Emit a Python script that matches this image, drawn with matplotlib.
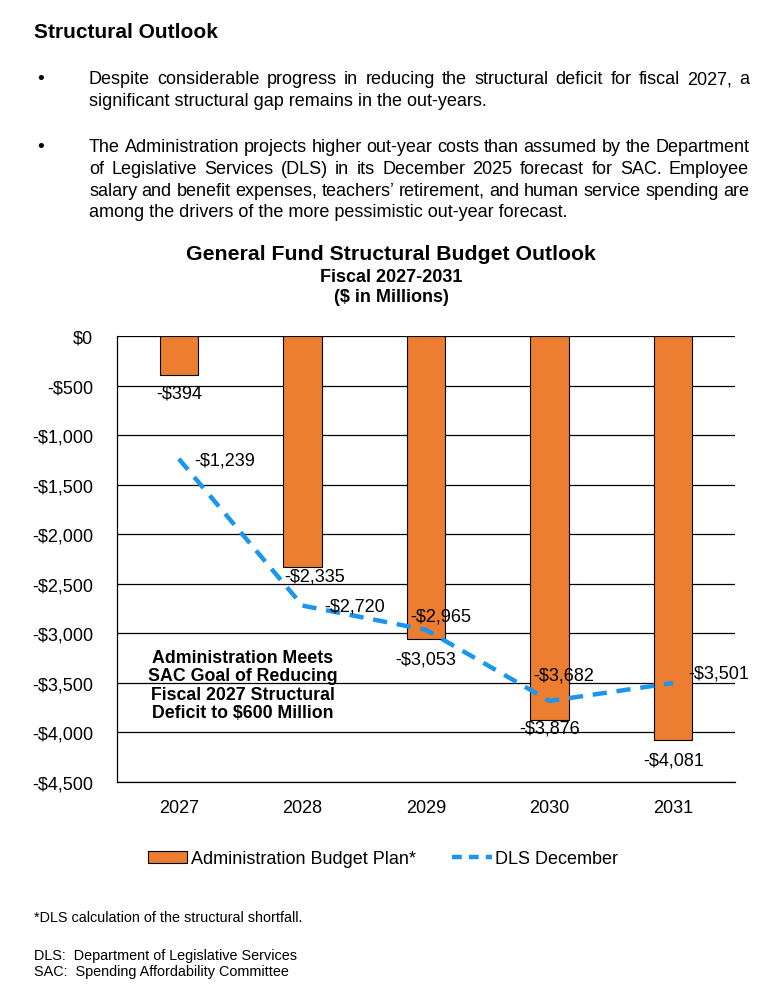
import matplotlib.pyplot as plt
from matplotlib.patches import Patch
from matplotlib.lines import Line2D

plt.rcParams['font.family'] = ['Liberation Sans', 'DejaVu Sans']

# chart data
years = ['2027', '2028', '2029', '2030', '2031']
admin_plan = [-394, -2335, -3053, -3876, -4081]
dls_december = [-1239, -2720, -2965, -3682, -3501]
y_ticks = [0, -500, -1000, -1500, -2000, -2500, -3000, -3500, -4000, -4500]

W, H = 773, 995
fig = plt.figure(figsize=(W / 100, H / 100), dpi=100)


def fy(y):
    return 1 - y / H


def fmt(v):
    return '-${:,}'.format(abs(v)) if v < 0 else '${:,}'.format(v)


# header text
fig.text(34 / W, fy(32), 'Structural Outlook', fontsize=15, fontweight='bold', va='center')

bullets = [
    ['Despite considerable progress in reducing the structural deficit for fiscal 2027, a',
     'significant structural gap remains in the out-years.'],
    ['The Administration projects higher out-year costs than assumed by the Department',
     'of Legislative Services (DLS) in its December 2025 forecast for SAC. Employee',
     "salary and benefit expenses, teachers\u2019 retirement, and human service spending are",
     'among the drivers of the more pessimistic out-year forecast.'],
]
bullet_y = [80, 148]
renderer = fig.canvas.get_renderer()
x0, x1 = 89, 749
for lines, by in zip(bullets, bullet_y):
    fig.text(37 / W, fy(by), '\u2022', fontsize=14, va='center')
    for i, line in enumerate(lines):
        y = fy(by + i * 21.5)
        if i == len(lines) - 1:
            fig.text(x0 / W, y, line, fontsize=13, va='center')
            continue
        # justify the line between x0 and x1
        words = line.split(' ')
        objs = [fig.text(0, y, w, fontsize=13, va='center') for w in words]
        widths = [o.get_window_extent(renderer).width for o in objs]
        gap = (x1 - x0 - sum(widths)) / (len(words) - 1)
        x = x0
        for o, w in zip(objs, widths):
            o.set_x(x / W)
            x += w + gap

# chart title
fig.text(391 / W, fy(255), 'General Fund Structural Budget Outlook', fontsize=15.3,
         fontweight='bold', ha='center', va='center')
fig.text(391 / W, fy(278), 'Fiscal 2027-2031', fontsize=13, fontweight='bold', ha='center', va='center')
fig.text(391 / W, fy(298), '($ in Millions)', fontsize=13, fontweight='bold', ha='center', va='center')

ax = fig.add_axes([117 / W, fy(783), (735 - 117) / W, (783 - 337) / H])
x = list(range(len(years)))
ax.bar(x, admin_plan, width=0.31, color='#ED7D31', edgecolor='black', linewidth=0.8, zorder=3)
ax.plot(x, dls_december, color='#1A96F0', linewidth=3.2, dashes=(3.2, 2.2), zorder=4)

ax.set_xlim(-0.5, len(years) - 0.5)
ax.set_ylim(-4500, 0)
ax.set_yticks(y_ticks)
ax.set_yticklabels([fmt(v) for v in y_ticks], fontsize=13)
ax.set_xticks(x)
ax.set_xticklabels(years, fontsize=13)
ax.tick_params(axis='y', length=0, pad=17)
ax.tick_params(axis='x', length=0, pad=12)
ax.grid(axis='y', color='black', linewidth=0.9, zorder=0)
ax.set_axisbelow(True)
for s in ['top', 'right']:
    ax.spines[s].set_visible(False)
ax.spines['left'].set_linewidth(0.9)
ax.spines['bottom'].set_linewidth(0.9)

# bar value labels (offsets in points)
bar_offsets = [(0, -13), (9, -6), (0, -15), (0, -6), (0, -14)]
for xi, v, off in zip(x, admin_plan, bar_offsets):
    ax.annotate(fmt(v), (xi, v), xytext=off, textcoords='offset points', ha='center',
                va='center', fontsize=13, zorder=5)

# line value labels
line_offsets = [(11, -1), (16, 0), (-11, 10), (-12, 19), (11, 7)]
for xi, v, off in zip(x, dls_december, line_offsets):
    ax.annotate(fmt(v), (xi, v), xytext=off, textcoords='offset points', ha='left',
                va='center', fontsize=13, zorder=5)

fig.text(243 / W, fy(686), 'Administration Meets\nSAC Goal of Reducing\nFiscal 2027 Structural\nDeficit to $600 Million',
         ha='center', va='center', fontsize=12.8, fontweight='bold', linespacing=1.1)

handles = [Patch(facecolor='#ED7D31', edgecolor='black', linewidth=0.8),
           Line2D([], [], color='#1A96F0', linewidth=3.2, dashes=(2.2, 1.6))]
fig.legend(handles, ['Administration Budget Plan*', 'DLS December'], loc='center',
           bbox_to_anchor=(383 / W, fy(860)), ncol=2, frameon=False, fontsize=13,
           handlelength=2.2, handleheight=0.6, handletextpad=0.2, columnspacing=2.0,
           borderpad=0)

# footnotes
fig.text(34 / W, fy(918), '*DLS calculation of the structural shortfall.', fontsize=10.4, va='center')
fig.text(34 / W, fy(956), 'DLS:  Department of Legislative Services', fontsize=10.4, va='center')
fig.text(34 / W, fy(972), 'SAC:  Spending Affordability Committee', fontsize=10.4, va='center')

fig.savefig('out.png', dpi=100)
